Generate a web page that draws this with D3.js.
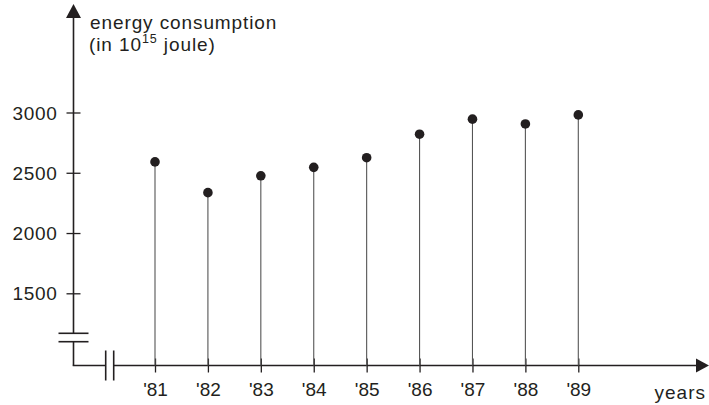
<!DOCTYPE html>
<html>
<head>
<meta charset="utf-8">
<script src="https://cdn.jsdelivr.net/npm/d3@7"></script>
<style>
  html, body { margin: 0; padding: 0; background: #fff; }
  svg { display: block; }
  text { font-family: "Liberation Sans", Arial, sans-serif; fill: #231f20; }
</style>
</head>
<body>
<svg id="chart" width="709" height="405"></svg>
<script>
const years = [81, 82, 83, 84, 85, 86, 87, 88, 89];
const yearLabels = ["'81", "'82", "'83", "'84", "'85", "'86", "'87", "'88", "'89"];
const consumption = [2590, 2335, 2475, 2545, 2625, 2820, 2945, 2905, 2980];
const yTicks = [1500, 2000, 2500, 3000];
const yTitle1 = "energy consumption";
const xTitle = "years";

const ink = "#231f20";
const svg = d3.select("#chart");

const axisX = 73.5;   // y-axis position
const axisY = 365.5;  // x-axis position

const x = d3.scaleLinear().domain([81, 89]).range([155, 578.3]);
const y = d3.scaleLinear().domain([1500, 3000]).range([293.3, 112.5]);

// arrowheads
svg.append("path")
  .attr("d", `M${axisX},4 L${axisX - 7.5},18 L${axisX + 7.5},18 Z`)
  .attr("fill", ink);
svg.append("path")
  .attr("d", `M709,${axisY} L696,${axisY - 7} L696,${axisY + 7} Z`)
  .attr("fill", ink);

// y axis with break
const yBreakTop = 333.3, yBreakBot = 341.7;
svg.append("line").attr("x1", axisX).attr("x2", axisX).attr("y1", 16).attr("y2", yBreakTop)
  .attr("stroke", ink).attr("stroke-width", 1.6);
svg.append("line").attr("x1", axisX).attr("x2", axisX).attr("y1", yBreakBot).attr("y2", axisY)
  .attr("stroke", ink).attr("stroke-width", 1.6);
[yBreakTop, yBreakBot].forEach(v => {
  svg.append("line").attr("x1", axisX - 15).attr("x2", axisX + 15).attr("y1", v).attr("y2", v)
    .attr("stroke", ink).attr("stroke-width", 1.6);
});

// x axis with break
const xBreakL = 105.7, xBreakR = 113.7;
svg.append("line").attr("x1", axisX - 0.8).attr("x2", xBreakL).attr("y1", axisY).attr("y2", axisY)
  .attr("stroke", ink).attr("stroke-width", 1.6);
svg.append("line").attr("x1", xBreakR).attr("x2", 698).attr("y1", axisY).attr("y2", axisY)
  .attr("stroke", ink).attr("stroke-width", 1.6);
[xBreakL, xBreakR].forEach(v => {
  svg.append("line").attr("x1", v).attr("x2", v).attr("y1", axisY - 15).attr("y2", axisY + 15)
    .attr("stroke", ink).attr("stroke-width", 1.6);
});

// y ticks via d3 axis
const yAxis = d3.axisLeft(y).tickValues(yTicks).tickSize(7).tickPadding(9).tickFormat(d3.format("d"));
const gy = svg.append("g").attr("transform", `translate(${axisX},0)`).call(yAxis);
gy.select(".domain").remove();
gy.selectAll(".tick line").attr("x1", -7).attr("x2", 7).attr("stroke", ink).attr("stroke-width", 1.3);
gy.selectAll(".tick text")
  .attr("font-family", "Liberation Sans, Arial, sans-serif")
  .attr("font-size", 19).attr("fill", ink).attr("dy", "0.35em")
  .style("letter-spacing", "0.7px");

// x ticks via d3 axis
const xAxis = d3.axisBottom(x).tickValues(years).tickSize(7).tickPadding(10)
  .tickFormat((d, i) => yearLabels[i]);
const gx = svg.append("g").attr("transform", `translate(0,${axisY})`).call(xAxis);
gx.select(".domain").remove();
gx.selectAll(".tick line").attr("y1", -7).attr("y2", 7).attr("stroke", ink).attr("stroke-width", 1.3);
gx.selectAll(".tick text")
  .attr("font-family", "Liberation Sans, Arial, sans-serif")
  .attr("font-size", 19).attr("fill", ink).attr("dy", "0.69em");

// stems
svg.append("g").selectAll("line").data(years).join("line")
  .attr("x1", d => x(d)).attr("x2", d => x(d))
  .attr("y1", (d, i) => y(consumption[i])).attr("y2", axisY)
  .attr("stroke", "#555").attr("stroke-width", 1.1);

// points
svg.append("g").selectAll("circle").data(years).join("circle")
  .attr("cx", d => x(d)).attr("cy", (d, i) => y(consumption[i]))
  .attr("r", 4.8).attr("fill", ink);

// titles
svg.append("text").attr("x", 90).attr("y", 28.5)
  .attr("font-size", 19).style("letter-spacing", "0.9px").text(yTitle1);
const t2 = svg.append("text").attr("x", 89).attr("y", 50.5)
  .attr("font-size", 19).style("letter-spacing", "0.9px");
t2.append("tspan").text("(in 10");
t2.append("tspan").attr("font-size", 12.5).attr("dy", -7.5).text("15");
t2.append("tspan").attr("dy", 7.5).text(" joule)");

svg.append("text").attr("x", 706).attr("y", 398.5).attr("text-anchor", "end")
  .attr("font-size", 19).style("letter-spacing", "1px").text(xTitle);
</script>
</body>
</html>
